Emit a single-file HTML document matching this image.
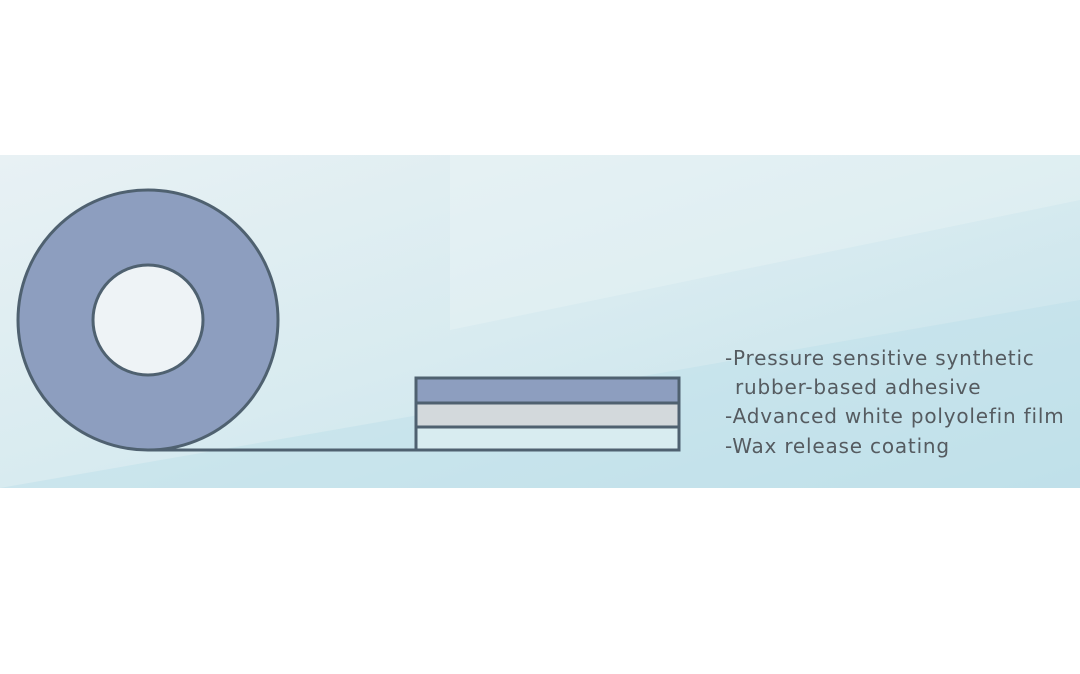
<!DOCTYPE html>
<html><head><meta charset="utf-8"><style>
body{margin:0;width:1080px;height:669px;background:#fff;overflow:hidden;font-family:"Liberation Sans",sans-serif}
</style></head><body>
<svg width="1080" height="669">
<defs>
<linearGradient id="bg" x1="0" y1="0" x2="1" y2="1">
<stop offset="0" stop-color="#e8f1f4"/><stop offset="0.5" stop-color="#d8ebf0"/><stop offset="1" stop-color="#c2e1ea"/>
</linearGradient>
</defs>
<rect x="0" y="155" width="1080" height="333" fill="url(#bg)"/>
<polygon points="0,488 1080,300 1080,488" fill="#bde0ea" opacity="0.5"/>
<polygon points="450,155 1080,155 1080,200 450,330" fill="#eef5f7" opacity="0.35"/>
<line x1="148" y1="450" x2="679" y2="450" stroke="#4f6170" stroke-width="3"/>
<circle cx="148" cy="320" r="130" fill="#8d9ebf" stroke="#4f6170" stroke-width="3"/>
<circle cx="148" cy="320" r="55" fill="#eef3f6" stroke="#4f6170" stroke-width="3"/>
<rect x="416" y="378" width="263" height="25" fill="#8d9ebf" stroke="#4f6170" stroke-width="3"/>
<rect x="416" y="403" width="263" height="24" fill="#d3d9dc" stroke="#4f6170" stroke-width="3"/>
<rect x="416" y="427" width="263" height="23" fill="#d8ecf0" stroke="#4f6170" stroke-width="3"/>
<g fill="#555b60" font-size="20" letter-spacing="0.8" font-family="DejaVu Sans, sans-serif">
<text x="725" y="365">-Pressure sensitive synthetic</text>
<text x="735" y="394">rubber-based adhesive</text>
<text x="725" y="423">-Advanced white polyolefin film</text>
<text x="725" y="453">-Wax release coating</text>
</g>
</svg>
</body></html>
